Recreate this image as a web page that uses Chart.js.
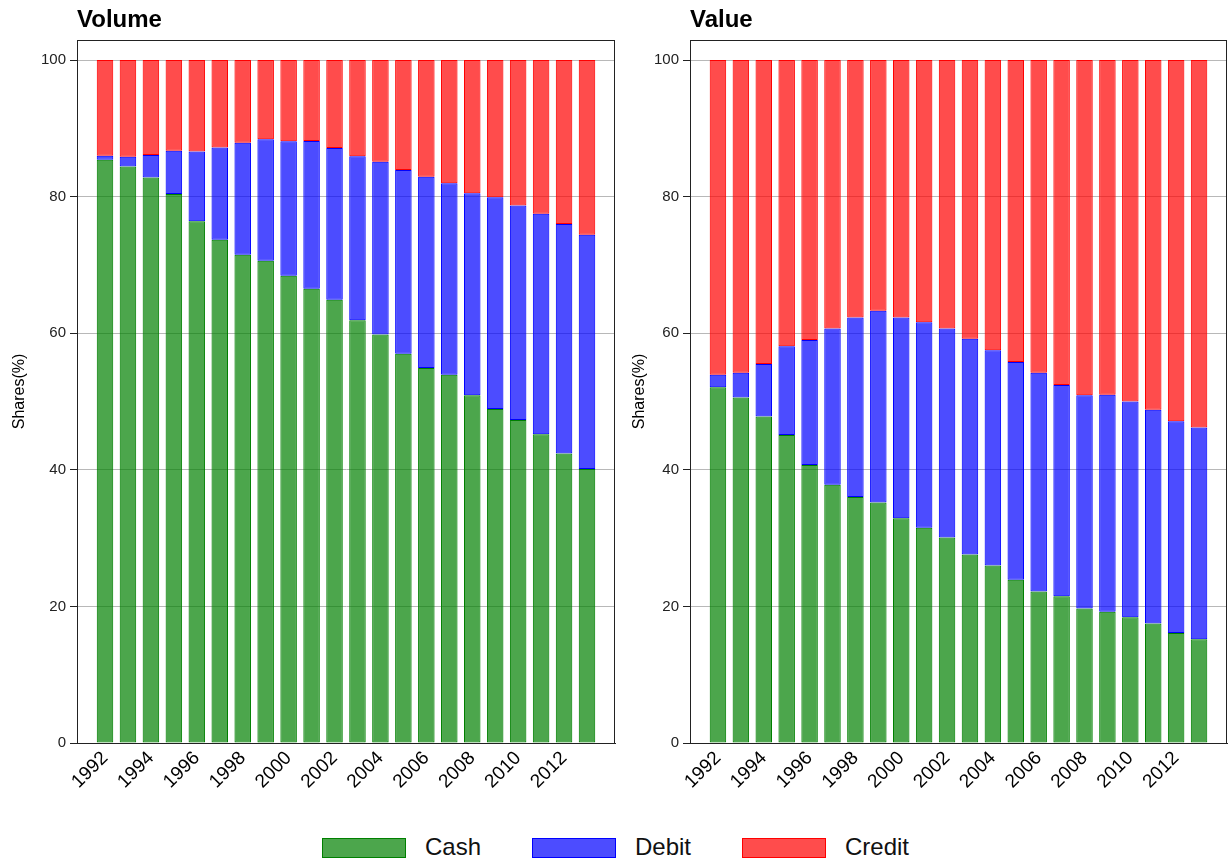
<!DOCTYPE html>
<html>
<head>
<meta charset="utf-8">
<script src="https://cdn.jsdelivr.net/npm/chart.js@4.4.1/dist/chart.umd.min.js"></script>
<style>
  html, body { margin: 0; padding: 0; background: #fff; }
  body { width: 1228px; height: 863px; position: relative; overflow: hidden; font-family: "Liberation Sans", Arial, sans-serif; }
  #c1 { position: absolute; left: 0; top: 0; }
  #c2 { position: absolute; left: 620px; top: 0; }
  #legend { position: absolute; left: 0; top: 830px; width: 1228px; height: 36px; }
  .lg { position: absolute; top: 8px; width: 82px; height: 18px; }
  .lt { position: absolute; top: 2px; font-size: 24px; color: #111; line-height: 30px; }
</style>
</head>
<body>
<canvas id="c1" width="620" height="815"></canvas>
<canvas id="c2" width="608" height="815"></canvas>
<div id="legend"></div>
<script>
// ---- data ----
const years = [1992,1993,1994,1995,1996,1997,1998,1999,2000,2001,2002,2003,2004,2005,2006,2007,2008,2009,2010,2011,2012,2013];
const seriesNames = ["Cash", "Debit", "Credit"];
const panelTitles = ["Volume", "Value"];
const yTicks = [0, 20, 40, 60, 80, 100];

const volumeCash   = [85.4,84.4,82.8,80.4,76.4,73.7,71.5,70.6,68.4,66.5,64.9,61.9,59.8,57.0,54.9,53.9,50.9,48.9,47.3,45.2,42.4,40.1];
const volumeDebit  = [0.6,1.45,3.3,6.3,10.2,13.5,16.4,17.8,19.7,21.65,22.2,24.0,25.3,26.9,28.0,28.05,29.6,31.0,31.4,32.3,33.6,34.3];
const volumeCredit = [14.0,14.15,13.9,13.3,13.4,12.8,12.1,11.6,11.9,11.85,12.9,14.1,14.9,16.1,17.1,18.05,19.5,20.1,21.3,22.5,24.0,25.6];

const valueCash    = [52.1,50.6,47.8,45.1,40.7,37.8,36.0,35.2,32.9,31.5,30.1,27.6,26.0,23.9,22.2,21.5,19.7,19.2,18.4,17.5,16.1,15.2];
const valueDebit   = [1.8,3.6,7.7,13.0,18.3,22.9,26.3,28.1,29.4,30.1,30.6,31.6,31.5,31.9,32.0,30.9,31.2,31.8,31.6,31.3,31.0,31.0];
const valueCredit  = [46.1,45.8,44.5,41.9,41.0,39.3,37.7,36.7,37.7,38.4,39.3,40.8,42.5,44.2,45.8,47.6,49.1,49.0,50.0,51.2,52.9,53.8];

// ---- styles ----
const fills   = ["rgba(0,128,0,0.7)", "rgba(0,0,255,0.7)", "rgba(255,0,0,0.7)"];
const borders = ["#008000", "#0000ff", "#ff0000"];
const FONT = "'Liberation Sans', Arial, sans-serif";

const boxPlugin = {
  id: 'boxPlugin',
  afterDraw(chart) {
    const a = chart.chartArea, ctx = chart.ctx;
    ctx.save();
    ctx.strokeStyle = '#222';
    ctx.lineWidth = 1;
    ctx.strokeRect(Math.round(a.left) + 0.5, Math.round(a.top) + 0.5, Math.round(a.right - a.left) - 1, Math.round(a.bottom - a.top));
    ctx.restore();
  }
};

function makeChart(id, title, cols, yWidth, padRight) {
  const datasets = cols.map((vals, i) => ({
    label: seriesNames[i],
    data: years.map((yr, k) => ({ x: yr, y: vals[k] })),
    backgroundColor: fills[i],
    borderColor: borders[i],
    borderWidth: 1,
    borderSkipped: false,
    barPercentage: 0.72,
    categoryPercentage: 1.0
  }));
  return new Chart(document.getElementById(id), {
    type: 'bar',
    data: { datasets },
    plugins: [boxPlugin],
    options: {
      responsive: false,
      animation: false,
      events: [],
      layout: { padding: { left: 0, right: padRight, top: 0, bottom: 0 } },
      plugins: {
        legend: { display: false },
        tooltip: { enabled: false },
        title: {
          display: true, text: title, align: 'start', fullSize: false,
          color: '#000',
          font: { family: FONT, size: 24, weight: 'bold', lineHeight: 1.2 },
          padding: { top: 6, bottom: 5.2, left: 3 }
        }
      },
      scales: {
        x: {
          type: 'linear', stacked: true, offset: false,
          min: 1990.78, max: 2014.22,
          grid: { display: false, drawTicks: false, offset: false },
          border: { display: true, color: '#222', width: 1 },
          ticks: {
            stepSize: 2, includeBounds: false, autoSkip: false,
            minRotation: 45, maxRotation: 45,
            color: '#000', padding: 4,
            font: { family: FONT, size: 19 },
            callback: v => String(v)
          },
          afterBuildTicks: s => { s.ticks = s.ticks.filter(t => t.value >= years[0] && t.value <= 2012); },
          afterFit: s => { s.height = 72; }
        },
        y: {
          stacked: true, min: 0, max: 102.93,
          grid: { color: '#b8b8b8', lineWidth: 1, tickColor: '#222', tickLength: 7, drawTicks: true },
          border: { display: true, color: '#222', width: 1 },
          ticks: {
            stepSize: 20, includeBounds: false, color: '#222', padding: 4,
            font: { family: FONT, size: 15 }
          },
          afterBuildTicks: s => { s.ticks = yTicks.map(v => ({ value: v })); },
          title: {
            display: true, text: 'Shares(%)', color: '#000',
            font: { family: FONT, size: 16 }, padding: { top: 10, bottom: 0 }
          },
          afterFit: s => { s.width = yWidth; }
        }
      }
    }
  });
}

makeChart('c1', panelTitles[0], [volumeCash, volumeDebit, volumeCredit], 77, 5);
makeChart('c2', panelTitles[1], [valueCash, valueDebit, valueCredit], 70, 1);

// ---- legend ----
const legend = document.getElementById('legend');
const legendX = [322, 532, 742];
seriesNames.forEach((name, i) => {
  const b = document.createElement('div');
  b.className = 'lg';
  b.style.left = legendX[i] + 'px';
  b.style.background = fills[i];
  b.style.border = '1px solid ' + borders[i];
  legend.appendChild(b);
  const t = document.createElement('div');
  t.className = 'lt';
  t.style.left = (legendX[i] + 103) + 'px';
  t.textContent = name;
  legend.appendChild(t);
});
</script>
</body>
</html>
